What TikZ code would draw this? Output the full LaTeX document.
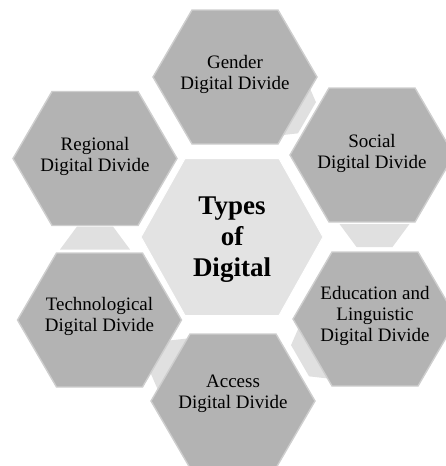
\documentclass[tikz,border=0pt]{standalone}
\usepackage{fontspec}
\setmainfont{Liberation Serif}
\definecolor{hexgray}{RGB}{179,179,179}
\definecolor{hexedge}{RGB}{206,206,206}
\definecolor{centerfill}{RGB}{227,227,227}
\definecolor{linkfill}{RGB}{224,224,224}
\tikzset{
  outerhex/.style={fill=hexgray, draw=hexedge, line width=1.4pt, line join=miter},
  centerhex/.style={fill=centerfill, draw=white, line width=1pt},
  linkshape/.style={fill=linkfill},
  outertext/.style={align=center, font=\fontsize{19}{21}\selectfont, text=black, inner sep=0pt},
  centertext/.style={align=center, font=\fontsize{27}{31}\selectfont\bfseries, text=black, inner sep=0pt},
}
\newcommand\outerhexagon[2]{%
  \path[outerhex, shift={(#1,#2)}] (-82,0) -- (-43,-67) -- (43,-67) -- (82,0) -- (43,67) -- (-43,67) -- cycle;}
\newcommand\linktrap[3]{%
  \path[linkshape, shift={(#1,#2)}, rotate=#3] (-35,-11.5) -- (35,-11.5) -- (18,11.5) -- (-18,11.5) -- cycle;}
\begin{document}
\begin{tikzpicture}[x=1pt, y=-1pt]
\useasboundingbox (0,0) rectangle (446,466);
% small link shapes (behind)
\linktrap{297}{112}{60}
\linktrap{374.5}{235.5}{0}
\linktrap{310}{355}{-60}
\linktrap{169}{362}{-120}
\linktrap{95}{238}{180}
% center hexagon
\path[centerhex, shift={(232,237)}] (-91,0) -- (-47,-78.5) -- (47,-78.5) -- (91,0) -- (47,78.5) -- (-47,78.5) -- cycle;
% outer hexagons
\outerhexagon{235}{77}
\outerhexagon{372}{155}
\outerhexagon{375}{319}
\outerhexagon{233}{401}
\outerhexagon{99.5}{320}
\outerhexagon{95}{158.5}
% texts
\node[centertext] (center) at (232,240) {Types\\of\\Digital};
\node[outertext] (gender) at (235,74) {Gender\\Digital Divide};
\node[outertext] (social) at (372,153) {Social\\Digital Divide};
\node[outertext] (education) at (375,316) {Education and\\Linguistic\\Digital Divide};
\node[outertext] (access) at (233,394) {Access\\Digital Divide};
\node[outertext] (technological) at (99.5,316) {Technological\\Digital Divide};
\node[outertext] (regional) at (95,156) {Regional\\Digital Divide};
\end{tikzpicture}
\end{document}
